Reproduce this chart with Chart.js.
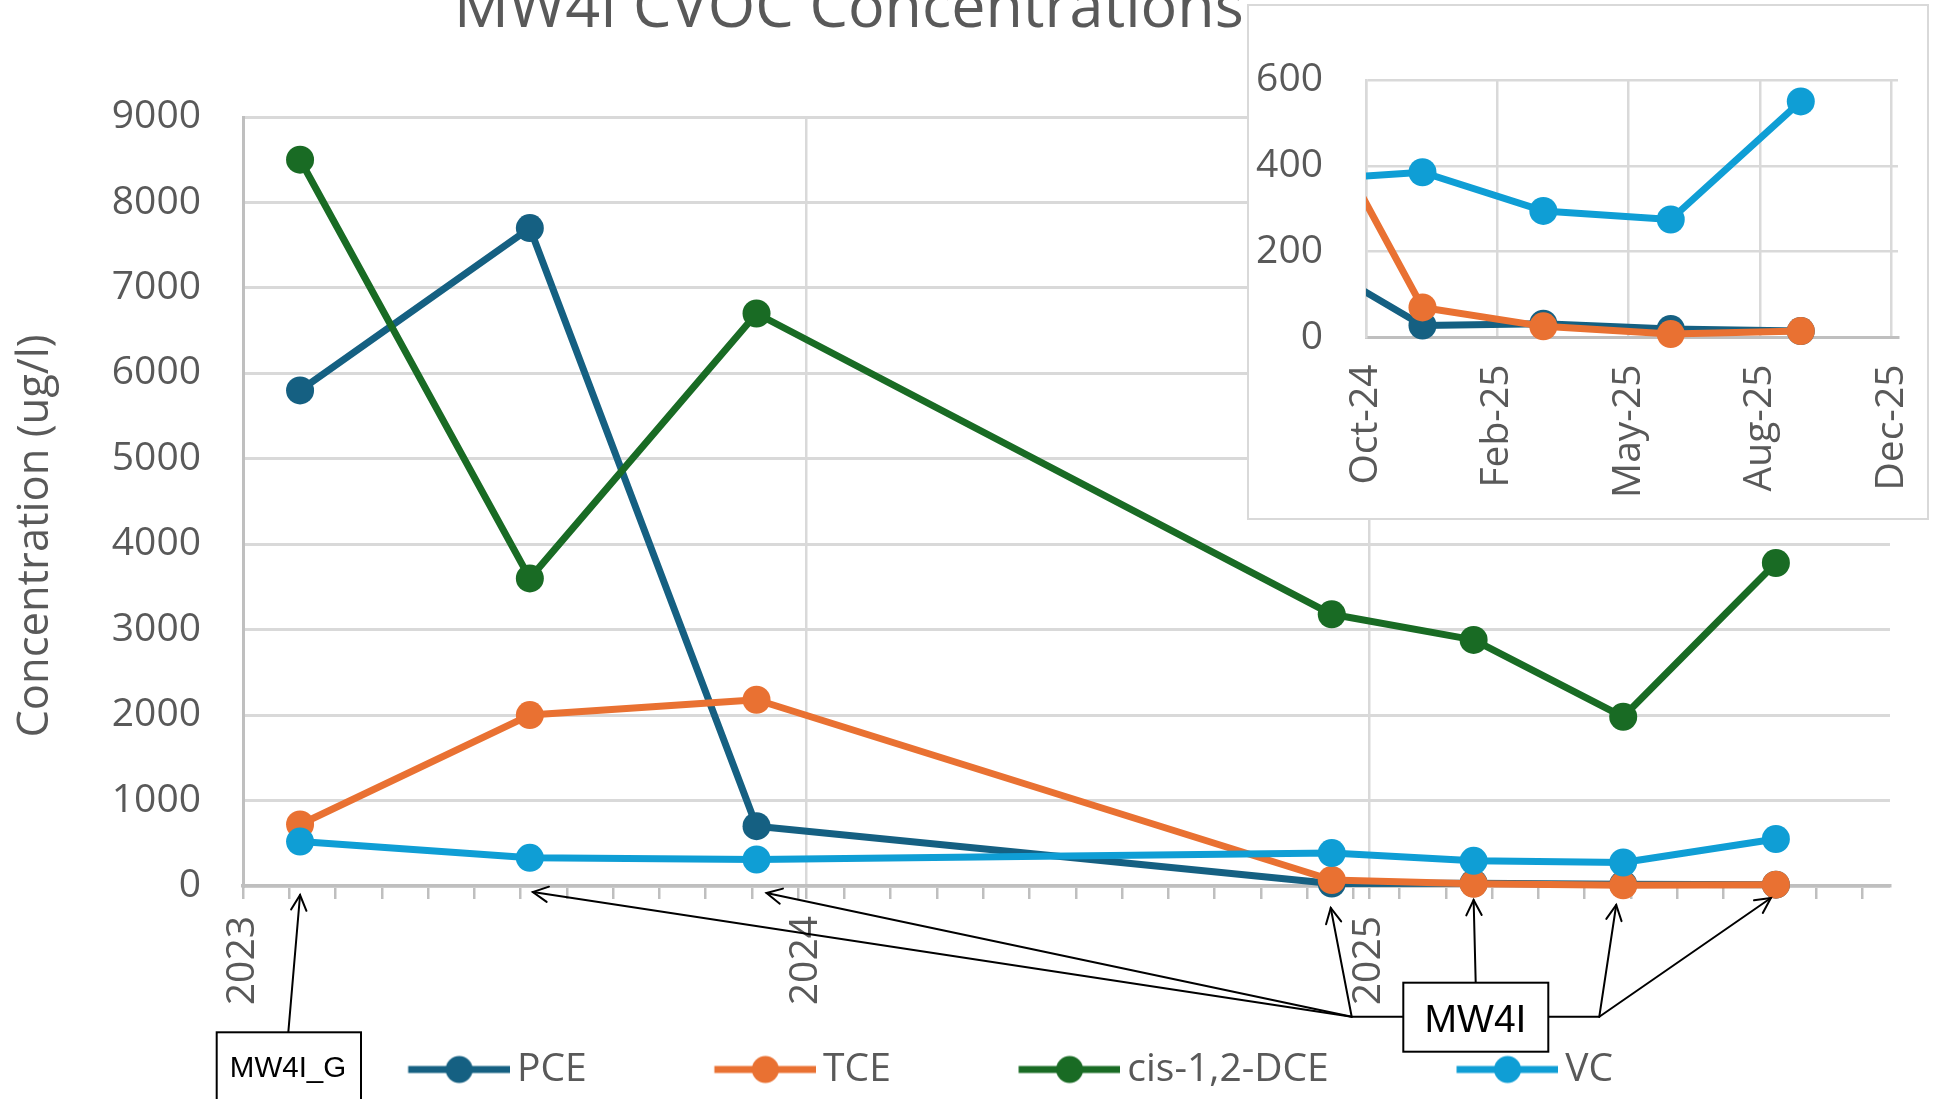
<!DOCTYPE html>
<html>
<head>
<meta charset="utf-8">
<title>MW4I CVOC Concentrations</title>
<script src="https://cdn.jsdelivr.net/npm/chart.js@4.4.1/dist/chart.umd.min.js"></script>
<style>
  html, body { margin: 0; padding: 0; background: #ffffff; }
  #page { position: relative; width: 1938px; height: 1099px; overflow: hidden; background: #ffffff; }
  #mainChart { position: absolute; left: 0; top: 0; }
  #insetFrame { position: absolute; left: 1247px; top: 4px; width: 678px; height: 512px;
                border: 2px solid #d9d9d9; background: #ffffff; }
  #insetChart { position: absolute; left: 0; top: 0; }
</style>
</head>
<body>
<div id="page">
  <canvas id="mainChart" width="1938" height="1099"></canvas>
  <div id="insetFrame"><canvas id="insetChart" width="678" height="512"></canvas></div>
</div>
<script>
// ---- sampling data (ug/l) ----
const sampleDates = ['2023-02-07', '2023-07-06', '2023-11-30', '2024-12-07', '2025-03-09', '2025-06-14', '2025-09-21'];
const pceValues = [5800, 7700, 700, 28, 32, 20, 15];
const tceValues = [720, 2000, 2180, 70, 26, 8, 15];
const dceValues = [8500, 3600, 6700, 3180, 2880, 1980, 3780];
const vcValues  = [520, 330, 310, 385, 295, 275, 550];
const seriesNames = ['PCE', 'TCE', 'cis-1,2-DCE', 'VC'];

// ---- axis labels ----
const yearTickLabels = ['2023', '2024', '2025'];
const insetTickLabels = ['Oct-24', 'Feb-25', 'May-25', 'Aug-25', 'Dec-25'];
const chartTitle = 'MW4I CVOC Concentrations';
const yAxisTitle = 'Concentration (ug/l)';

// ---- well callouts ----
const wellLabels = ['MW4I_G', 'MW4I'];
const sampleWell = [0, 1, 1, 1, 1, 1, 1];

// ---- styling ----
const seriesColors = ['#156082', '#E97132', '#196B24', '#0F9ED5'];
const TEXT_GREY = '#595959';
const GRID_GREY = '#d9d9d9';
const AXIS_GREY = '#bfbfbf';
const FONT = "'Open Sans', 'DejaVu Sans', sans-serif";
const CALLOUT_FONT = "'Liberation Sans', Arial, sans-serif";
const LINE_WIDTH = 7;
const MARKER_RADIUS = 14;

// Dates are plotted as day counts from the start of the main date axis.
const DAY_MS = 86400000;
const AXIS_ORIGIN = Date.UTC(2023, 0, 1);
const dayOf = s => (Date.parse(s) - AXIS_ORIGIN) / DAY_MS;
const sampleDays = sampleDates.map(dayOf);

const MAIN_X_MIN = dayOf('2023-01-01');
const MAIN_X_MAX = dayOf('2025-12-04');
const MAIN_MINOR_STEP = 30;
const MAIN_MAJOR_STEP = 365;
const INSET_X_MIN = dayOf('2024-10-25');
const INSET_X_MAX = dayOf('2025-12-04');
const INSET_STEP = 100;

const seriesValues = [pceValues, tceValues, dceValues, vcValues];

function buildDatasets(clip) {
  return seriesValues.map((vals, i) => ({
    label: seriesNames[i],
    data: vals.map((v, j) => ({ x: sampleDays[j], y: v })),
    borderColor: seriesColors[i],
    backgroundColor: seriesColors[i],
    pointBackgroundColor: seriesColors[i],
    pointBorderColor: seriesColors[i],
    borderWidth: LINE_WIDTH,
    pointRadius: MARKER_RADIUS,
    pointHoverRadius: MARKER_RADIUS,
    pointBorderWidth: 0,
    tension: 0,
    borderJoinStyle: 'round',
    borderCapStyle: 'round',
    order: seriesValues.length - i,   // later series drawn on top
    clip: clip
  }));
}

// Legend symbol: a line with a centred marker, preceded by blank space that
// separates it from the previous legend entry.
const SYMBOL_GAP = 122.5;
const SYMBOL_LINE = 102;
const SYMBOL_BOX = SYMBOL_GAP + SYMBOL_LINE - 25;
function legendSymbol(color) {
  const c = document.createElement('canvas');
  c.width = SYMBOL_GAP + SYMBOL_LINE; c.height = 32;
  const g = c.getContext('2d');
  g.strokeStyle = color; g.lineWidth = LINE_WIDTH;
  g.beginPath(); g.moveTo(SYMBOL_GAP, 16); g.lineTo(SYMBOL_GAP + SYMBOL_LINE, 16); g.stroke();
  g.fillStyle = color;
  g.beginPath(); g.arc(SYMBOL_GAP + SYMBOL_LINE / 2, 16, 13.5, 0, Math.PI * 2); g.fill();
  return c;
}
const legendSymbols = seriesColors.map(legendSymbol);

// ---- layout constants for the legend and annotations ----
const LEGEND_PADDING = 17.5;
const LEGEND_SHIFT = 10.5;
const X_AXIS_HEIGHT = 146.5;
const calloutAnchors = [[288.3, 1032.3], [1351.7, 1016.7], [1351.7, 1016.7], [1351.7, 1016.7],
                        [1475.7, 982.7], [1599.3, 1016.7], [1599.3, 1016.7]];
const calloutTipShift = [[0, 9], [3, 6], [10, 7], [-1, 22], [0, 14], [-7, 19], [-5, 12]];
const calloutBoxes = [
  { x: 216.7, y: 1032.3, w: 144.3, h: 100, size: 29.5, tx: 288, ty: 1076.7 },
  { x: 1403.3, y: 982.7, w: 145, h: 69, size: 39, tx: 1475.5, ty: 1031.7 }
];
const calloutStubs = [[[1403.3, 1016.7], [1351.7, 1016.7]], [[1548.3, 1016.7], [1599.3, 1016.7]]];

function strokeLine(ctx, a, b) {
  ctx.beginPath(); ctx.moveTo(a[0], a[1]); ctx.lineTo(b[0], b[1]); ctx.stroke();
}
function arrowHead(ctx, tip, from) {
  const a = Math.atan2(from[1] - tip[1], from[0] - tip[0]);
  const len = 17, spread = 0.47;
  ctx.beginPath();
  ctx.moveTo(tip[0] + len * Math.cos(a - spread), tip[1] + len * Math.sin(a - spread));
  ctx.lineTo(tip[0], tip[1]);
  ctx.lineTo(tip[0] + len * Math.cos(a + spread), tip[1] + len * Math.sin(a + spread));
  ctx.stroke();
}

const legendOffset = {
  id: 'legendOffset',
  afterLayout(chart) {
    if (chart.legend) { chart.legend.left += LEGEND_SHIFT; chart.legend.right += LEGEND_SHIFT; }
  }
};

const chartAnnotations = {
  id: 'chartAnnotations',
  afterDraw(chart) {
    const ctx = chart.ctx;
    ctx.save();
    // chart title
    ctx.fillStyle = TEXT_GREY;
    ctx.font = '61px ' + FONT;
    ctx.textAlign = 'left';
    ctx.textBaseline = 'alphabetic';
    ctx.fillText(chartTitle, 454, 27.3);
    // value axis title
    ctx.save();
    ctx.translate(48, 536);
    ctx.rotate(-Math.PI / 2);
    ctx.font = '43.5px ' + FONT;
    ctx.textAlign = 'center';
    ctx.fillText(yAxisTitle, 0, 0);
    ctx.restore();

    // well callouts pointing at each sampling date
    const xs = chart.scales.x;
    const bottom = chart.chartArea.bottom;
    ctx.strokeStyle = '#000000';
    ctx.lineWidth = 2;
    ctx.lineCap = 'round';
    sampleDays.forEach((d, i) => {
      const tip = [xs.getPixelForValue(d) + calloutTipShift[i][0], bottom + calloutTipShift[i][1]];
      const from = calloutAnchors[i];
      strokeLine(ctx, from, tip);
      arrowHead(ctx, tip, from);
    });
    calloutStubs.forEach(s => strokeLine(ctx, s[0], s[1]));
    calloutBoxes.forEach((b, k) => {
      ctx.fillStyle = '#ffffff';
      ctx.fillRect(b.x, b.y, b.w, b.h);
      ctx.strokeRect(b.x, b.y, b.w, b.h);
      ctx.fillStyle = '#000000';
      ctx.font = b.size + 'px ' + CALLOUT_FONT;
      ctx.textAlign = 'center';
      ctx.textBaseline = 'alphabetic';
      ctx.fillText(wellLabels[k], b.tx, b.ty);
    });
    ctx.restore();
  }
};

// ---- main chart ----
new Chart(document.getElementById('mainChart'), {
  type: 'line',
  data: { datasets: buildDatasets(false) },
  options: {
    responsive: false,
    animation: false,
    devicePixelRatio: 1,
    layout: { padding: { top: 117, right: 48, bottom: 0, left: 0 } },
    scales: {
      x: {
        type: 'linear',
        min: MAIN_X_MIN,
        max: MAIN_X_MAX,
        afterBuildTicks: axis => {
          const vals = [];
          for (let d = MAIN_X_MIN; d <= MAIN_X_MAX; d += MAIN_MINOR_STEP) vals.push(d);
          for (let k = 0; k < yearTickLabels.length; k++) vals.push(MAIN_X_MIN + MAIN_MAJOR_STEP * k);
          axis.ticks = [...new Set(vals)].sort((a, b) => a - b)
            .map(v => ({ value: v, major: (v - MAIN_X_MIN) % MAIN_MAJOR_STEP === 0 }));
        },
        afterFit: axis => { axis.height = X_AXIS_HEIGHT; axis.paddingLeft = 0; axis.paddingRight = 0; },
        ticks: {
          autoSkip: false,
          minRotation: 90,
          maxRotation: 90,
          padding: 17,
          color: TEXT_GREY,
          font: { family: FONT, size: 39 },
          callback: v => ((v - MAIN_X_MIN) % MAIN_MAJOR_STEP === 0)
            ? yearTickLabels[Math.round((v - MAIN_X_MIN) / MAIN_MAJOR_STEP)] : ''
        },
        grid: {
          color: c => (c.tick && c.tick.major) ? GRID_GREY : 'rgba(0,0,0,0)',
          lineWidth: 2.5,
          drawTicks: true,
          tickLength: 13,
          tickColor: AXIS_GREY,
          tickWidth: 2.5
        },
        border: { display: true, color: AXIS_GREY, width: 3.5 }
      },
      y: {
        min: 0,
        max: 9000,
        afterFit: axis => { axis.width = 243; },
        ticks: {
          stepSize: 1000,
          padding: 42,
          color: TEXT_GREY,
          font: { family: FONT, size: 39 },
          callback: v => String(v)
        },
        grid: { color: GRID_GREY, lineWidth: 3, drawTicks: false },
        border: { color: AXIS_GREY, width: 3 }
      }
    },
    plugins: {
      title: { display: false },
      tooltip: { enabled: false },
      legend: {
        position: 'bottom',
        labels: {
          usePointStyle: true,
          pointStyleWidth: SYMBOL_BOX,
          padding: LEGEND_PADDING,
          color: TEXT_GREY,
          font: { family: FONT, size: 39 },
          generateLabels: chart => chart.data.datasets.map((ds, i) => ({
            text: ds.label,
            pointStyle: legendSymbols[i],
            fontColor: TEXT_GREY,
            fillStyle: ds.borderColor,
            strokeStyle: ds.borderColor,
            lineWidth: 0,
            hidden: false,
            datasetIndex: i
          }))
        }
      }
    }
  },
  plugins: [legendOffset, chartAnnotations]
});

// ---- inset: recent samples at a finer scale ----
new Chart(document.getElementById('insetChart'), {
  type: 'line',
  data: { datasets: buildDatasets({ left: 0, top: 20, right: 20, bottom: 20 }) },
  options: {
    responsive: false,
    animation: false,
    devicePixelRatio: 1,
    layout: { padding: { top: 74, right: 29, bottom: 0, left: 0 } },
    scales: {
      x: {
        type: 'linear',
        min: INSET_X_MIN,
        max: INSET_X_MAX,
        afterBuildTicks: axis => {
          axis.ticks = insetTickLabels.map((_, k) => ({ value: INSET_X_MIN + INSET_STEP * k }));
        },
        afterFit: axis => { axis.height = 180.5; axis.paddingLeft = 0; axis.paddingRight = 0; },
        ticks: {
          autoSkip: false,
          minRotation: 90,
          maxRotation: 90,
          padding: 27,
          color: TEXT_GREY,
          font: { family: FONT, size: 39 },
          callback: v => insetTickLabels[Math.round((v - INSET_X_MIN) / INSET_STEP)]
        },
        grid: { color: GRID_GREY, lineWidth: 2.5, drawTicks: false },
        border: { color: AXIS_GREY, width: 3 }
      },
      y: {
        min: 0,
        max: 600,
        afterFit: axis => { axis.width = 117; },
        ticks: {
          stepSize: 200,
          padding: 43,
          color: TEXT_GREY,
          font: { family: FONT, size: 39 },
          callback: v => String(v)
        },
        grid: { color: GRID_GREY, lineWidth: 2.5, drawTicks: false },
        border: { color: GRID_GREY, width: 2.5 }
      }
    },
    plugins: {
      title: { display: false },
      tooltip: { enabled: false },
      legend: { display: false }
    }
  }
});
</script>
</body>
</html>
